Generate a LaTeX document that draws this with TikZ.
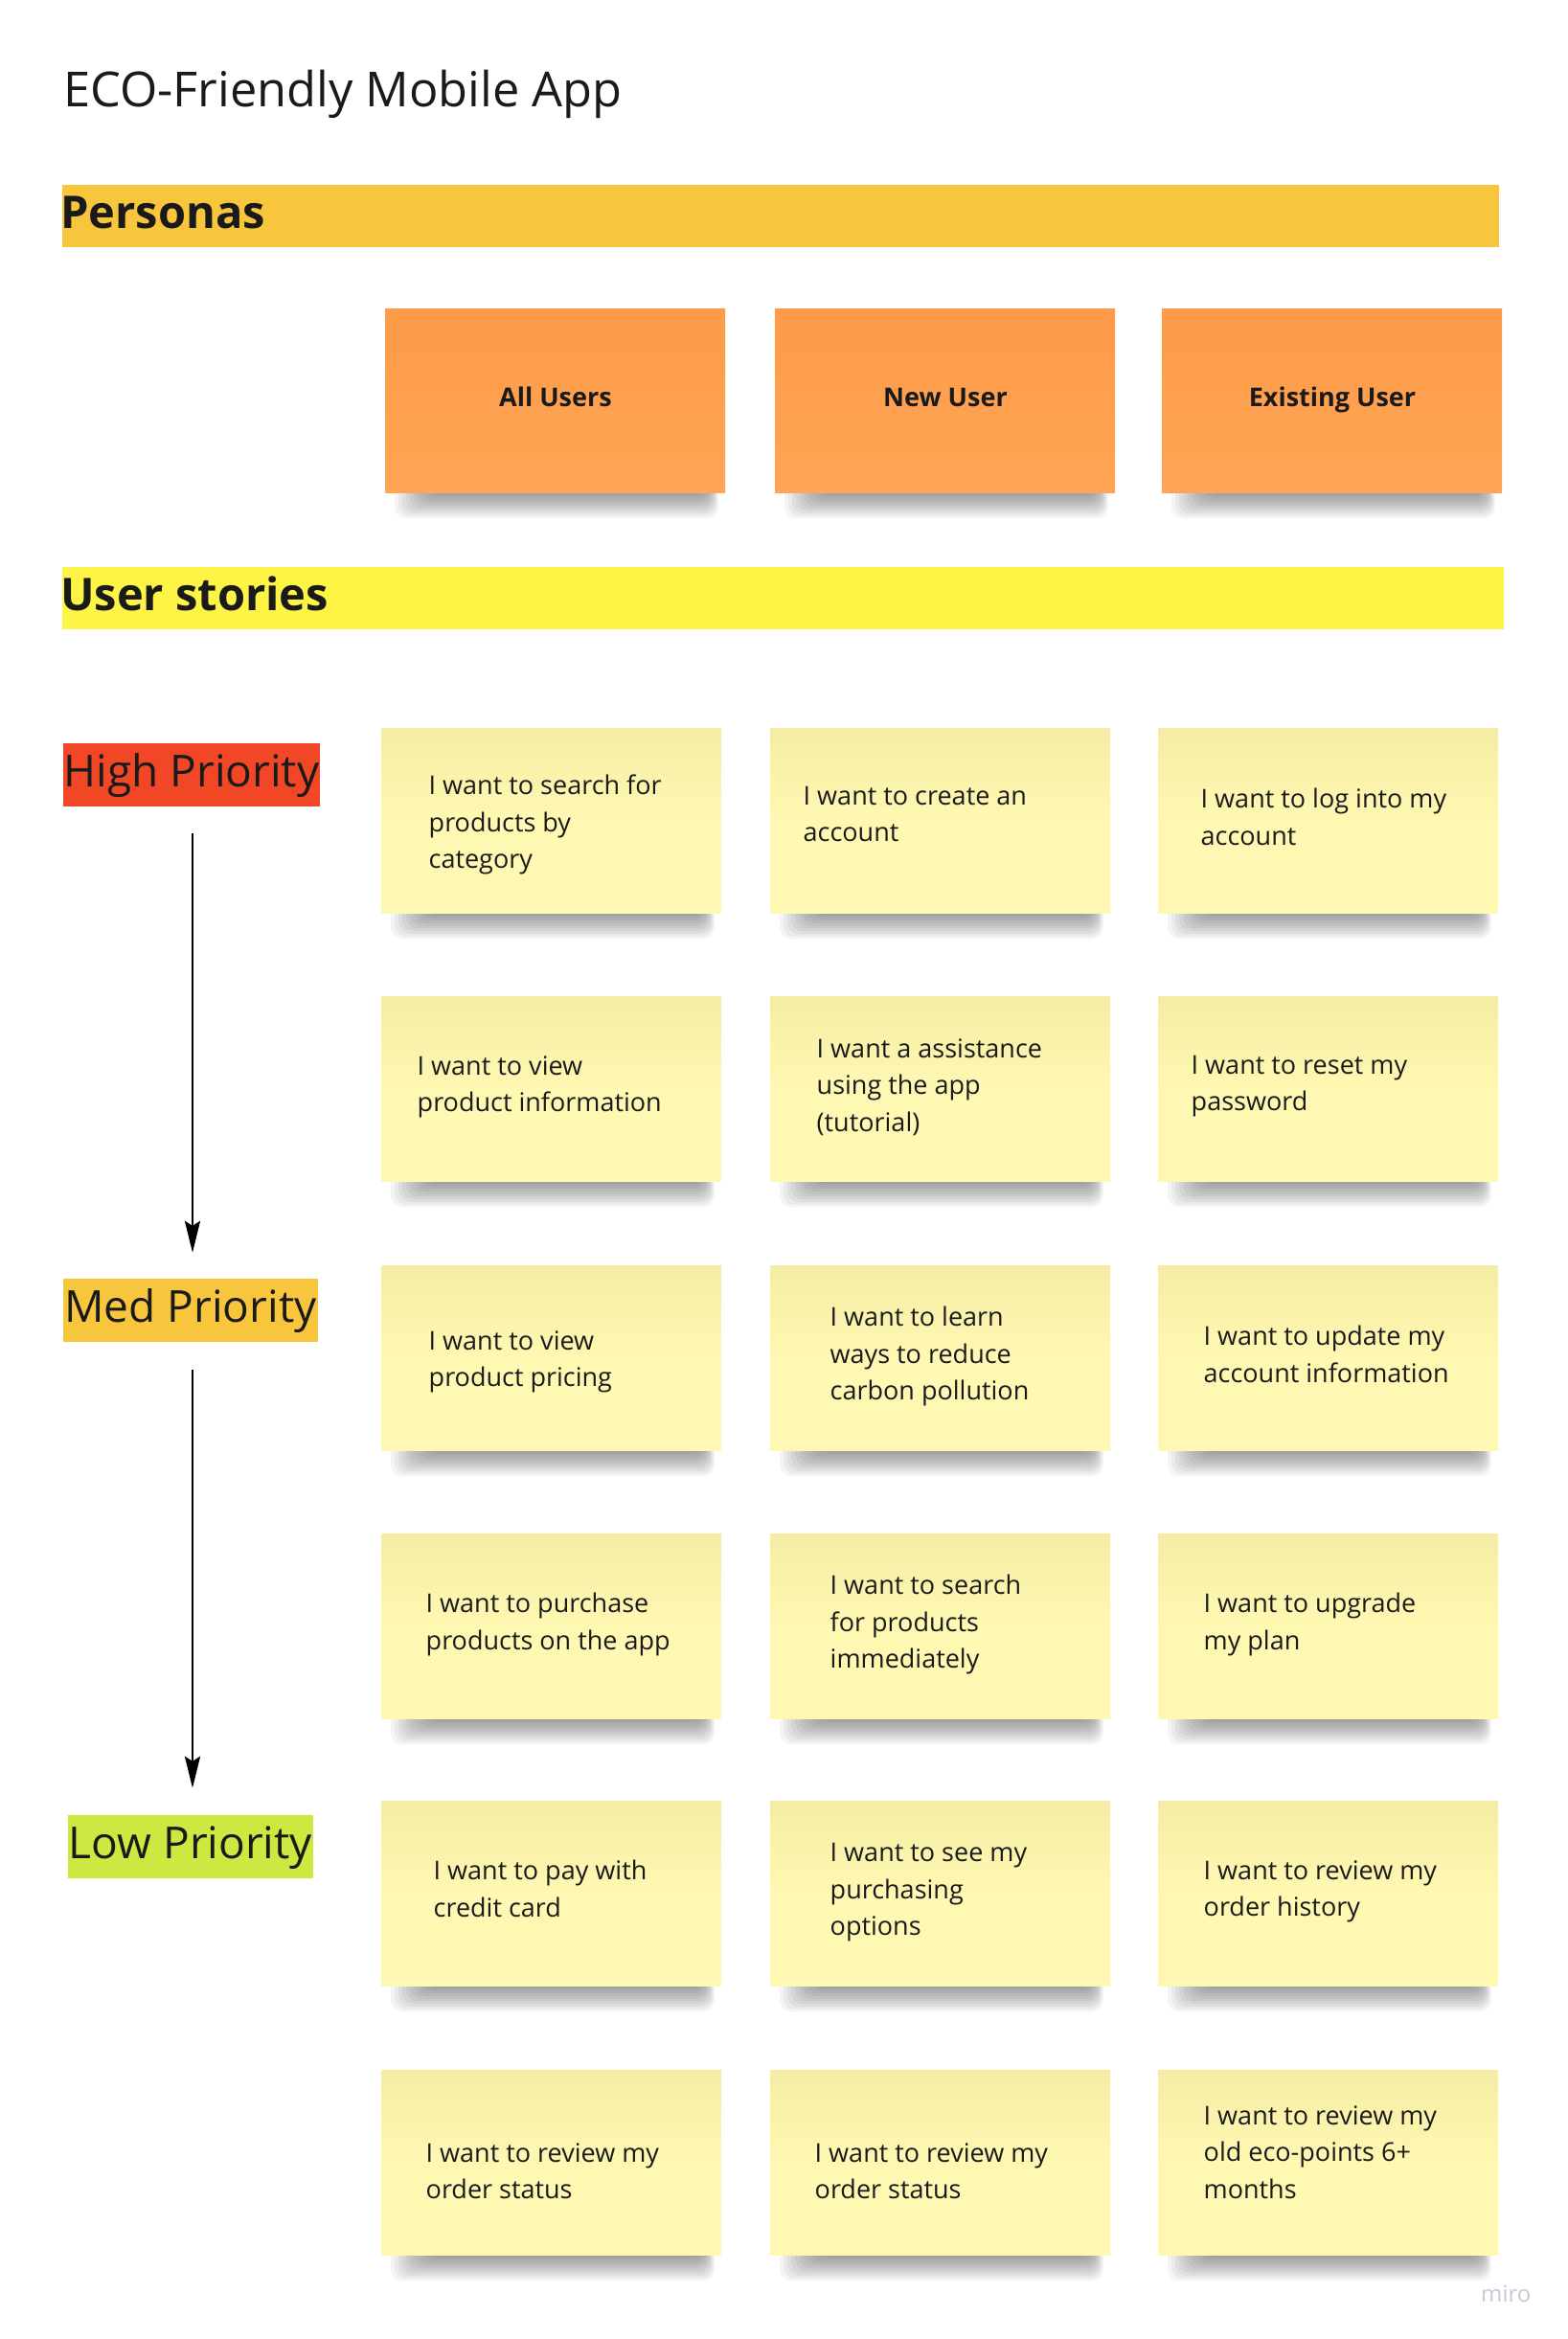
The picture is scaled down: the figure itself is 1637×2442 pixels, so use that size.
\documentclass[tikz,border=0pt]{standalone}
\usepackage{fontspec}
\setmainfont{Open Sans}
\usetikzlibrary{arrows.meta}
\definecolor{ink}{HTML}{1A1A1A}
\definecolor{personabar}{HTML}{F8C63D}
\definecolor{storybar}{HTML}{FEF445}
\definecolor{highc}{HTML}{F24726}
\definecolor{medc}{HTML}{F8C63D}
\definecolor{lowc}{HTML}{CEE741}
\definecolor{stickytop}{HTML}{F5EDA5}
\definecolor{stickybot}{HTML}{FFF8B2}
\definecolor{orangetop}{HTML}{FD9B48}
\definecolor{orangebot}{HTML}{FFA556}
\definecolor{mirogray}{HTML}{C9C7D4}

\newcommand\stickyshade[3]{%
  \foreach \k in {0,...,9}{%
    \fill[black,opacity=0.045,rounded corners=12pt] (#1+46-4*\k,#3-24) rectangle (#2-18+1.2*\k,#3+3+2.7*\k);
  }}

\newcommand\story[6]{%
  \stickyshade{#2}{#2+355}{#3+193}
  \node[sticky] (#1) at (#2,#3) {};
  \node[storytext] (#1-text) at (#4-1.5,#5-20) {#6};}

\newcommand\persona[4]{%
  \stickyshade{#2}{#2+355}{#3+192}
  \node[personasticky] (#1) at (#2,#3) {};
  \node[personatext] (#1-text) at (#2+178,424) {#4};}

\tikzset{
  sticky/.style={anchor=north west, inner sep=0pt, minimum width=355pt, minimum height=193pt,
    top color=stickytop, bottom color=stickybot, middle color=stickybot},
  personasticky/.style={anchor=north west, inner sep=0pt, minimum width=355pt, minimum height=192pt,
    top color=orangetop, bottom color=orangebot},
  storytext/.style={anchor=north west, inner sep=0pt, align=left, text=ink,
    font={\fontsize{27pt}{38.5pt}\selectfont}},
  personatext/.style={anchor=base, inner sep=0pt, text=ink,
    font={\fontsize{27pt}{32pt}\selectfont\bfseries}},
  bar/.style={anchor=north west, inner sep=0pt, minimum height=65pt},
  bartext/.style={anchor=base west, inner sep=0pt, text=ink,
    font={\fontsize{47pt}{56pt}\selectfont\bfseries}},
  prio/.style={anchor=base, inner xsep=1pt, inner ysep=0pt, text height=45pt, text depth=21pt,
    text=ink, font={\fontsize{46pt}{55pt}\selectfont}},
  arr/.style={line width=2.5pt, draw=black, -{Stealth[length=33pt,width=16pt,inset=5pt]}},
}

\begin{document}
\begin{tikzpicture}[x=1pt,y=-1pt]
\fill[white] (0,0) rectangle (1637,2442);
\useasboundingbox (0,0) rectangle (1637,2442);

% title
\node[anchor=base west, inner sep=0pt, text=ink, font={\fontsize{50.5pt}{60pt}\selectfont}] (title) at (66,111) {ECO-Friendly Mobile App};

% section bars
\node[bar, fill=personabar, minimum width=1500pt] (pbar) at (65,193) {};
\node[bartext] (pbar-text) at (63,238) {Personas};
\node[bar, fill=storybar, minimum width=1505pt] (sbar) at (65,592) {};
\node[bartext] (sbar-text) at (63,637) {User stories};

% personas
\persona{p1}{402}{322}{All Users}
\persona{p2}{809}{322}{New User}
\persona{p3}{1213}{322}{Existing User}

% priority labels
\node[prio, fill=highc] (high) at (200,821) {High Priority};
\node[prio, fill=medc] (med) at (199,1380) {Med Priority};
\node[prio, fill=lowc] (low) at (199,1940) {Low Priority};
\draw[arr, shorten <=28pt, shorten >=27pt] (high.south -| 201,0) -- (med.north -| 201,0);
\draw[arr, shorten <=29pt, shorten >=28pt] (med.south -| 201,0) -- (low.north -| 201,0);

% user stories
\story{s11}{398}{760}{449}{829}{I want to search for\\products by\\category}
\story{s12}{804}{760}{840}{841}{I want to create an\\account}
\story{s13}{1209}{760}{1255}{843}{I want to log into my\\account}

\story{s21}{398}{1040}{437}{1122}{I want to view\\product information}
\story{s22}{804}{1040}{854}{1104}{I want a assistance\\using the app\\(tutorial)}
\story{s23}{1209}{1040}{1245}{1122}{I want to reset my\\password}

\story{s31}{398}{1321}{449}{1409}{I want to view\\product pricing}
\story{s32}{804}{1321}{868}{1384}{I want to learn\\ways to reduce\\carbon pollution}
\story{s33}{1209}{1321}{1258}{1404}{I want to update my\\account information}

\story{s41}{398}{1601}{446}{1683}{I want to purchase\\products on the app}
\story{s42}{804}{1601}{868}{1664}{I want to search\\for products\\immediately}
\story{s43}{1209}{1601}{1258}{1683}{I want to upgrade\\my plan}

\story{s51}{398}{1880}{454}{1962}{I want to pay with\\credit card}
\story{s52}{804}{1880}{868}{1944}{I want to see my\\purchasing\\options}
\story{s53}{1209}{1880}{1258}{1962}{I want to review my\\order history}

\story{s61}{398}{2161}{446}{2257}{I want to review my\\order status}
\story{s62}{804}{2161}{852}{2257}{I want to review my\\order status}
\story{s63}{1209}{2161}{1258}{2218}{I want to review my\\old eco-points 6+\\months}

% watermark
\node[anchor=base west, inner sep=0pt, text=mirogray, font={\fontsize{24pt}{28pt}\selectfont}] (miro) at (1546,2403) {miro};
\end{tikzpicture}
\end{document}
